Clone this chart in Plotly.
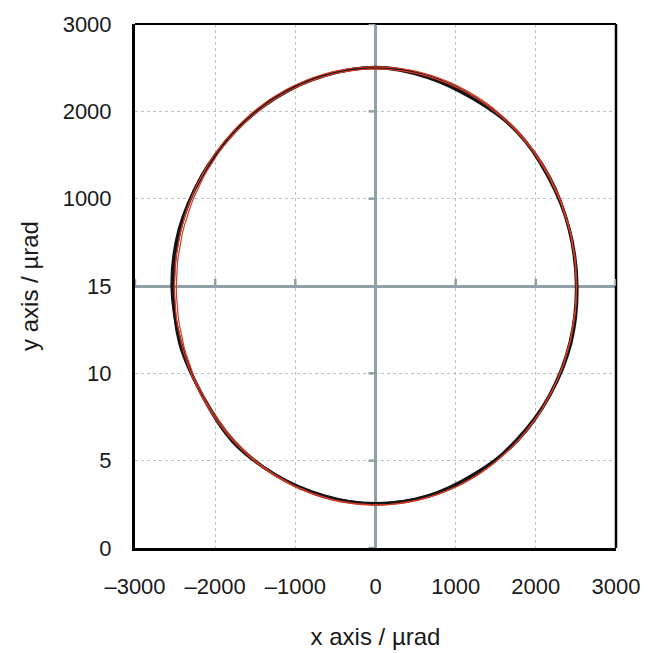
import numpy as np
import plotly.graph_objects as go

# ---- data ----
angles_deg = [0, 15, 30, 45, 60, 75, 90, 105, 120, 135, 150, 165, 180,
              195, 210, 225, 240, 255, 270, 285, 300, 315, 330, 345, 360]
radius_loop1 = [2515, 2505, 2490, 2500, 2465, 2475, 2500, 2495, 2485, 2495, 2505, 2535, 2540,
                2515, 2500, 2520, 2495, 2485, 2495, 2490, 2480, 2505, 2510, 2525, 2515]
radius_loop2 = [2505, 2500, 2505, 2495, 2485, 2490, 2505, 2490, 2495, 2490, 2510, 2520, 2520,
                2530, 2495, 2505, 2500, 2495, 2490, 2495, 2500, 2490, 2505, 2510, 2505]
# fitted circles (centre x, centre y, radius)
fit_circles = [(0, 0, 2510), (10, -10, 2495)]

x_ticks = [-3000, -2000, -1000, 0, 1000, 2000, 3000]
x_ticktext = ["–3000", "–2000", "–1000", "0", "1000", "2000", "3000"]
y_ticks = [-3000, -2000, -1000, 0, 1000, 2000, 3000]
y_ticktext = ["0", "5", "10", "15", "1000", "2000", "3000"]

fig = go.Figure()

for r in (radius_loop1, radius_loop2):
    a = np.radians(angles_deg)
    rr = np.array(r, dtype=float)
    fig.add_trace(go.Scatter(x=rr * np.cos(a), y=rr * np.sin(a), mode="lines",
                             line=dict(color="#151515", width=3, shape="spline", smoothing=1.0),
                             showlegend=False, hoverinfo="skip"))

t = np.radians(np.arange(0, 361, 2))
for cx, cy, rad in fit_circles:
    fig.add_trace(go.Scatter(x=cx + rad * np.cos(t), y=cy + rad * np.sin(t), mode="lines",
                             line=dict(color="#d23a26", width=1.2),
                             showlegend=False, hoverinfo="skip"))

axis_font = dict(family="Liberation Sans, Arial, sans-serif", size=22, color="#1a1a1a")
title_font = dict(family="Liberation Sans, Arial, sans-serif", size=24, color="#1a1a1a")

fig.update_xaxes(range=[-3000, 3000], tickvals=x_ticks, ticktext=x_ticktext, automargin=False,
                 showgrid=True, gridcolor="#b8c2c8", griddash="dot", gridwidth=1,
                 zeroline=True, zerolinecolor="#8fa0a8", zerolinewidth=2.5,
                 showline=True, linecolor="black", linewidth=3, mirror=False,
                 ticks="", ticklabelstandoff=17, tickfont=axis_font,
                 title=dict(text="x axis / µrad", font=title_font, standoff=30))
fig.update_yaxes(range=[-3000, 3000], tickvals=y_ticks, ticktext=y_ticktext, automargin=False,
                 showgrid=True, gridcolor="#b8c2c8", griddash="dot", gridwidth=1,
                 zeroline=True, zerolinecolor="#8fa0a8", zerolinewidth=2.5,
                 showline=True, linecolor="black", linewidth=3, mirror=False,
                 ticks="", ticklabelstandoff=16, tickfont=axis_font,
                 title=dict(text="y axis / µrad", font=title_font, standoff=18))

shapes = []
shapes.append(dict(type="line", xref="paper", yref="paper", x0=0, x1=1, y0=1, y1=1,
                   line=dict(color="black", width=2)))
shapes.append(dict(type="line", xref="paper", yref="paper", x0=1, x1=1, y0=0, y1=1,
                   line=dict(color="black", width=2.5)))
for yv in y_ticks:
    if yv != 0:
        shapes.append(dict(type="line", xref="x", yref="y", xsizemode="pixel", xanchor=0,
                           x0=-7, x1=0, y0=yv, y1=yv, line=dict(color="#8fa0a8", width=2.5)))
for xv in x_ticks:
    if xv != 0:
        shapes.append(dict(type="line", xref="x", yref="y", ysizemode="pixel", yanchor=0,
                           y0=0, y1=7, x0=xv, x1=xv, line=dict(color="#8fa0a8", width=2.5)))
fig.update_layout(shapes=shapes)

fig.update_layout(width=648, height=653, margin=dict(l=135, r=32, t=24, b=105),
                  plot_bgcolor="white", paper_bgcolor="white", showlegend=False)

fig.write_html("out.html")
